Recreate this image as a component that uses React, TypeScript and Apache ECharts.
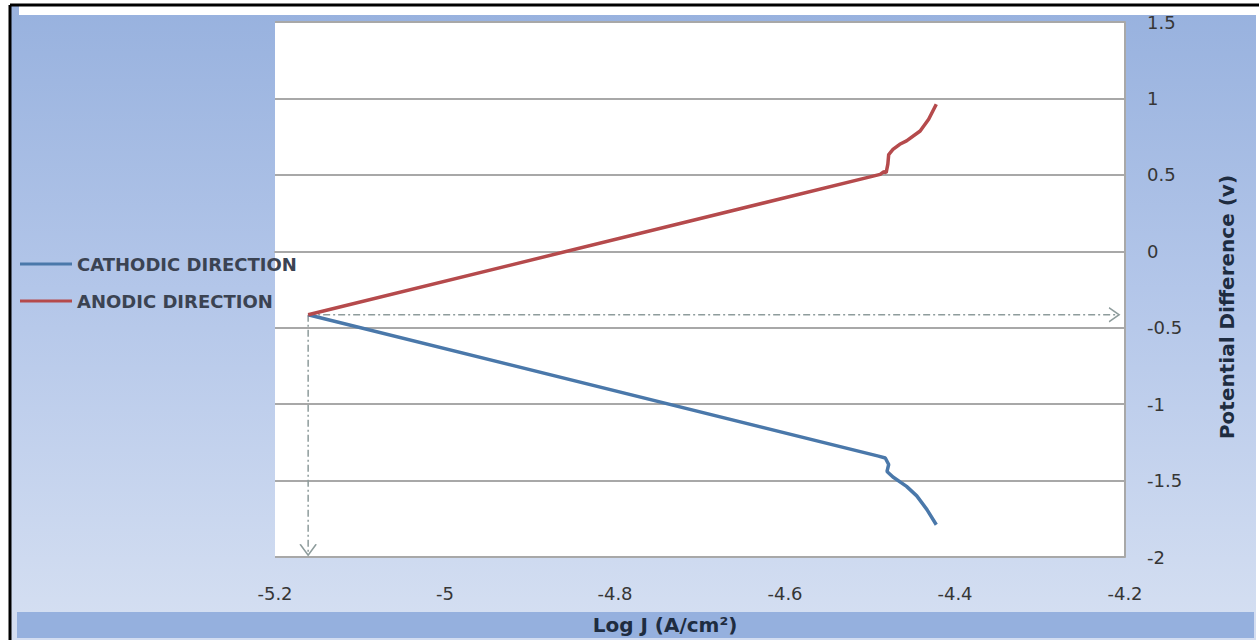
import React, { useEffect, useRef } from "react";
import * as echarts from "echarts";

const xTicks = ["-5.2", "-5", "-4.8", "-4.6", "-4.4", "-4.2"];
const yTicks = ["-2", "-1.5", "-1", "-0.5", "0", "0.5", "1", "1.5"];

const cathodicLogJ = [-5.161, -4.49, -4.482, -4.478, -4.48, -4.473, -4.457, -4.445, -4.433, -4.422];
const cathodicPotential = [-0.415, -1.34, -1.352, -1.395, -1.44, -1.477, -1.538, -1.6, -1.69, -1.789];

const anodicLogJ = [-5.161, -4.488, -4.484, -4.481, -4.479, -4.478, -4.473, -4.465, -4.457, -4.441, -4.431, -4.422];
const anodicPotential = [-0.415, 0.503, 0.52, 0.515, 0.57, 0.633, 0.666, 0.7, 0.722, 0.787, 0.864, 0.962];

// corrosion point projections (dash-dot arrows)
const corrLogJ = -5.161;
const corrPotential = -0.415;
const arrowEndLogJ = -4.207;
const arrowEndPotential = -1.985;

const seriesNames = ["CATHODIC DIRECTION", "ANODIC DIRECTION"];
const xTitle = "Log J (A/cm\u00B2)";
const yTitle = "Potential Difference (v)";

const zip = (a: number[], b: number[]) => a.map((v, i) => [v, b[i]]);

export default function App() {
  const ref = useRef<HTMLDivElement>(null);
  useEffect(() => {
    document.body.style.margin = "0";
    const chart = echarts.init(ref.current!, null, { renderer: "svg" });
    const refStyle = { color: "#8e9c9c", width: 1.5, type: [7, 3, 2, 3] as any };
    const chevronItem = { color: "transparent", borderColor: "#8e9c9c", borderWidth: 1.5 };
    chart.setOption({
      animation: false,
      backgroundColor: new echarts.graphic.LinearGradient(0, 0, 0, 1, [
        { offset: 0, color: "#97b1de" },
        { offset: 0.45, color: "#b3c6e9" },
        { offset: 1, color: "#d6e0f2" },
      ]),
      grid: {
        left: 275,
        right: 134,
        top: 22,
        bottom: 83,
        show: true,
        backgroundColor: "#ffffff",
        borderWidth: 0,
      },
      legend: {
        data: seriesNames,
        orient: "vertical",
        left: 20,
        top: 255,
        padding: 0,
        icon: "rect",
        itemWidth: 52,
        itemHeight: 3,
        itemGap: 19,
        textStyle: {
          fontFamily: "DejaVu Sans",
          fontWeight: "bold",
          fontSize: 18,
          color: "#3b4352",
          padding: [0, 0, 0, 0],
        },
      },
      xAxis: {
        type: "value",
        min: -5.2,
        max: -4.2,
        interval: 0.2,
        axisLine: { show: true, lineStyle: { color: "#a8a8a8", width: 2 } },
        axisTick: { show: false },
        splitLine: { show: false },
        axisLabel: {
          margin: 27,
          fontFamily: "DejaVu Sans",
          fontSize: 18,
          color: "#363636",
          formatter: (v: number) => {
            const s = String(Math.round(v * 10) / 10);
            return xTicks.includes(s) ? s : "";
          },
        },
      },
      yAxis: {
        type: "value",
        position: "right",
        min: -2,
        max: 1.5,
        interval: 0.5,
        axisLine: { show: true, lineStyle: { color: "#a8a8a8", width: 2 } },
        axisTick: { show: false },
        splitLine: { show: true, lineStyle: { color: "#a8a8a8", width: 2 } },
        axisLabel: {
          margin: 22,
          fontFamily: "DejaVu Sans",
          fontSize: 18,
          color: "#363636",
          formatter: (v: number) => {
            const s = String(Math.round(v * 10) / 10);
            return yTicks.includes(s) ? s : "";
          },
        },
      },
      graphic: [
        { type: "rect", shape: { x: 0, y: 0, width: 1259, height: 15 }, style: { fill: "#ffffff" }, z: 1 },
        { type: "rect", shape: { x: 10, y: 5, width: 9, height: 10 }, style: { fill: "#9ab2de" }, z: 2 },
        { type: "rect", shape: { x: 0, y: 0, width: 10, height: 640 }, style: { fill: "#ffffff" }, z: 1 },
        { type: "rect", shape: { x: 1256, y: 0, width: 3, height: 640 }, style: { fill: "#ffffff" }, z: 1 },
        { type: "rect", shape: { x: 10, y: 612, width: 1246, height: 28 }, style: { fill: "#d3ddf1" }, z: 1 },
        { type: "rect", shape: { x: 17, y: 612, width: 1237, height: 26 }, style: { fill: "#95b0de" }, z: 2 },
        { type: "line", shape: { x1: 10, y1: 5, x2: 1259, y2: 5 }, style: { stroke: "#000000", lineWidth: 3 }, z: 3 },
        { type: "line", shape: { x1: 10, y1: 5, x2: 10, y2: 640 }, style: { stroke: "#000000", lineWidth: 3 }, z: 3 },
        {
          type: "text",
          x: 665,
          y: 625,
          z: 5,
          style: {
            text: xTitle,
            fontFamily: "DejaVu Sans",
            fontWeight: "bold",
            fontSize: 20,
            fill: "#1e2c40",
            align: "center",
            verticalAlign: "middle",
          },
        },
        {
          type: "text",
          x: 1227,
          y: 307,
          rotation: Math.PI / 2,
          z: 5,
          style: {
            text: yTitle,
            fontFamily: "DejaVu Sans",
            fontWeight: "bold",
            fontSize: 20,
            fill: "#1e2c40",
            align: "center",
            verticalAlign: "middle",
          },
        },
      ],
      series: [
        {
          name: "ref-h",
          type: "line",
          data: [
            { value: [corrLogJ, corrPotential], symbol: "none" },
            {
              value: [arrowEndLogJ, corrPotential],
              symbol: "path://M0,0L9,7L0,14",
              symbolSize: [10, 14],
              symbolOffset: [-5, 0],
            },
          ],
          lineStyle: refStyle,
          itemStyle: chevronItem,
          z: 1,
        },
        {
          name: "ref-v",
          type: "line",
          data: [
            { value: [corrLogJ, corrPotential], symbol: "none" },
            {
              value: [corrLogJ, arrowEndPotential],
              symbol: "path://M0,0L7,9L14,0",
              symbolSize: [16, 11],
              symbolOffset: [0, -5],
            },
          ],
          lineStyle: refStyle,
          itemStyle: chevronItem,
          z: 1,
        },
        {
          name: seriesNames[0],
          type: "line",
          data: zip(cathodicLogJ, cathodicPotential),
          showSymbol: false,
          symbol: "none",
          lineStyle: { color: "#4a78aa", width: 3.5 },
          itemStyle: { color: "#4a78aa" },
          z: 3,
        },
        {
          name: seriesNames[1],
          type: "line",
          data: zip(anodicLogJ, anodicPotential),
          showSymbol: false,
          symbol: "none",
          lineStyle: { color: "#b54a4c", width: 3.5 },
          itemStyle: { color: "#b54a4c" },
          z: 3,
        },
      ],
    });
    return () => chart.dispose();
  }, []);
  return (
    <div
      ref={ref}
      style={{ position: "fixed", left: 0, top: 0, width: 1259, height: 640 }}
    />
  );
}
